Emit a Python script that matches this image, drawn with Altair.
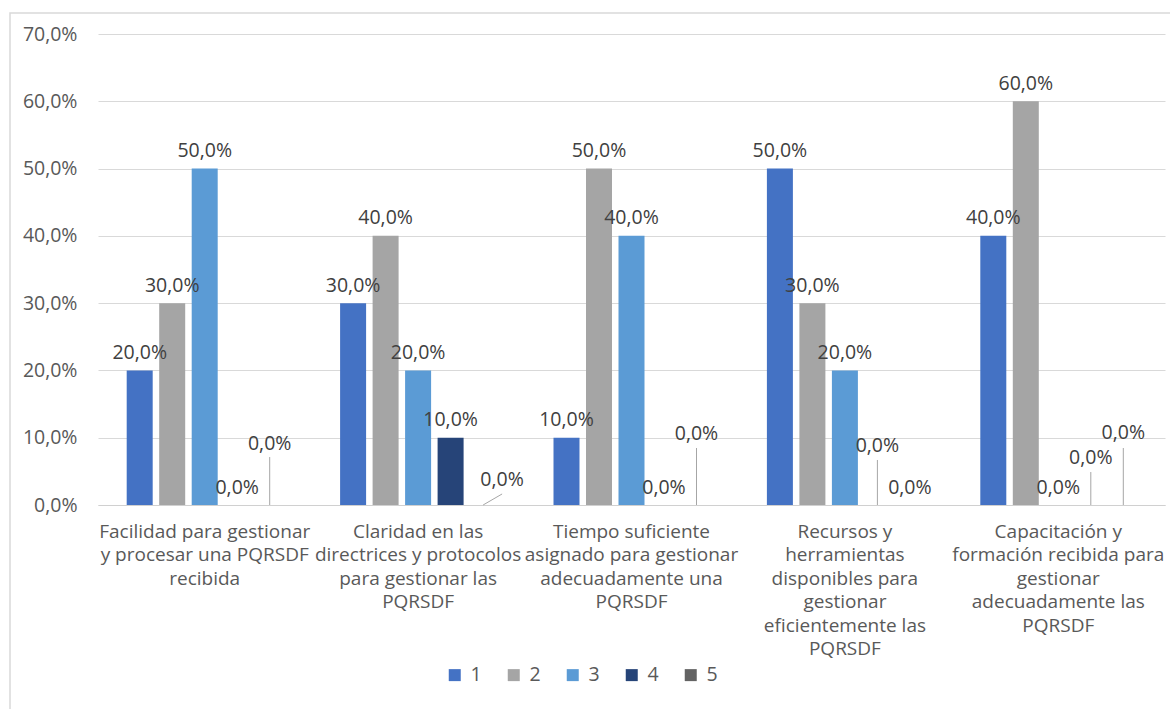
import altair as alt
import pandas as pd

# ---- data ----
categories = [
    "Facilidad para gestionar|y procesar una PQRSDF|recibida",
    "Claridad en las|directrices y protocolos|para gestionar las|PQRSDF",
    "Tiempo suficiente|asignado para gestionar|adecuadamente una|PQRSDF",
    "Recursos y|herramientas|disponibles para|gestionar|eficientemente las|PQRSDF",
    "Capacitación y|formación recibida para|gestionar|adecuadamente las|PQRSDF",
]
series = ["1", "2", "3", "4", "5"]
s1 = [0.20, 0.30, 0.10, 0.50, 0.40]
s2 = [0.30, 0.40, 0.50, 0.30, 0.60]
s3 = [0.50, 0.20, 0.40, 0.20, 0.00]
s4 = [0.00, 0.10, 0.00, 0.00, 0.00]
s5 = [0.00, 0.00, 0.00, 0.00, 0.00]
values = [s1, s2, s3, s4, s5]
colors = ["#4472C4", "#A5A5A5", "#5B9BD5", "#264478", "#636363"]
y_ticks = [0.0, 0.1, 0.2, 0.3, 0.4, 0.5, 0.6, 0.7]

# zero labels that were moved away from their bar, with a leader line
# (category index, series) -> (label anchor value, leader top value, leader kind)
moved_labels = {
    (0, "5"): (0.0646, 0.0713, "vertical"),
    (1, "5"): (0.0110, 0.0000, "diagonal"),
    (2, "5"): (0.0795, 0.0847, "vertical"),
    (3, "4"): (0.0617, 0.0669, "vertical"),
    (4, "4"): (0.0438, 0.0490, "vertical"),
    (4, "5"): (0.0810, 0.0847, "vertical"),
}

rows = []
for si, s in enumerate(series):
    for ci, c in enumerate(categories):
        v = values[si][ci]
        lab_y, lead_top, kind = moved_labels.get((ci, s), (v, 0.0, "none"))
        rows.append({"cat": c, "series": s, "value": v, "base": 0.0,
                     "label_y": lab_y, "leader_top": lead_top, "kind": kind})
df = pd.DataFrame(rows)

FONT = "Open Sans"
AX = "#595959"
NUM_SIZE = 19.5
CAT_SIZE = 19

x_enc = alt.X("cat:N", sort=categories, title=None,
              scale=alt.Scale(paddingInner=0, paddingOuter=0),
              axis=alt.Axis(labelExpr="split(datum.label, '|')", labelAngle=0,
                            labelFont=FONT, labelFontSize=CAT_SIZE, labelColor=AX,
                            labelLineHeight=23.5, labelPadding=17, ticks=False,
                            domainColor="#D0D0D0", domainWidth=1, labelBaseline="top",
                            grid=False, labelLimit=0))
xo_enc = alt.XOffset("series:N", sort=series,
                     scale=alt.Scale(paddingInner=0.2, paddingOuter=0.883))
y_scale = alt.Scale(domain=[0, 0.7], nice=False)

bars = alt.Chart(df).mark_bar().encode(
    x=x_enc,
    xOffset=xo_enc,
    y=alt.Y("value:Q", scale=y_scale, title=None,
            axis=alt.Axis(values=y_ticks,
                          labelExpr="replace(format(datum.value, '.1%'), '.', ',')",
                          labelFont=FONT, labelFontSize=NUM_SIZE, labelColor=AX,
                          labelPadding=21, ticks=False, domain=False,
                          gridColor="#D9D9D9", gridWidth=1)),
    color=alt.Color("series:N", sort=series,
                    scale=alt.Scale(domain=series, range=colors),
                    legend=alt.Legend(title=None, orient="none", direction="horizontal",
                                      legendX=347, legendY=631,
                                      symbolType="square", symbolSize=144,
                                      symbolStrokeWidth=0, labelFont=FONT,
                                      labelFontSize=NUM_SIZE, labelColor=AX,
                                      labelOffset=6, columnPadding=22)),
)

label_expr = "replace(format(datum.value, '.1%'), '.', ',')"

labels = alt.Chart(df).transform_filter("datum.kind != 'diagonal'").transform_calculate(
    txt=label_expr
).mark_text(font=FONT, fontSize=NUM_SIZE, color="#404040", dy=-17.5, baseline="middle").encode(
    x=alt.X("cat:N", sort=categories),
    xOffset=alt.XOffset("series:N", sort=series),
    y=alt.Y("label_y:Q", scale=y_scale),
    text="txt:N",
)

labels_diag = alt.Chart(df).transform_filter("datum.kind == 'diagonal'").transform_calculate(
    txt=label_expr
).mark_text(font=FONT, fontSize=NUM_SIZE, color="#404040", dy=-17.5, dx=19, baseline="middle").encode(
    x=alt.X("cat:N", sort=categories),
    xOffset=alt.XOffset("series:N", sort=series),
    y=alt.Y("label_y:Q", scale=y_scale),
    text="txt:N",
)

leaders = alt.Chart(df).transform_filter("datum.kind == 'vertical'").mark_rule(
    color="#A6A6A6", strokeWidth=1
).encode(
    x=alt.X("cat:N", sort=categories),
    xOffset=alt.XOffset("series:N", sort=series),
    y=alt.Y("base:Q", scale=y_scale),
    y2="leader_top:Q",
)

leader_diag = alt.Chart(df).transform_filter("datum.kind == 'diagonal'").mark_point(
    shape="M0,0L2,-1.16", size=361, filled=False, stroke="#A6A6A6", strokeWidth=1, opacity=1
).encode(
    x=alt.X("cat:N", sort=categories),
    xOffset=alt.XOffset("series:N", sort=series),
    y=alt.Y("base:Q", scale=y_scale),
)

frame = alt.Chart(alt.Data(values=[{"a": 1}])).mark_rect(
    fill=None, stroke="#D9D9D9", strokeWidth=1.5
).encode(
    x=alt.value(-88), x2=alt.value(1090), y=alt.value(-21), y2=alt.value(700)
)

chart = alt.layer(frame, bars, leaders, leader_diag, labels, labels_diag).resolve_scale(
    y="shared"
).properties(
    width=1067, height=471,
    autosize=alt.AutoSizeParams(type="none"),
    padding={"left": 98, "top": 34, "right": 5, "bottom": 204},
    background="white",
).configure_view(stroke=None)

chart.save("out.html", embed_options={"renderer": "svg", "actions": False})
